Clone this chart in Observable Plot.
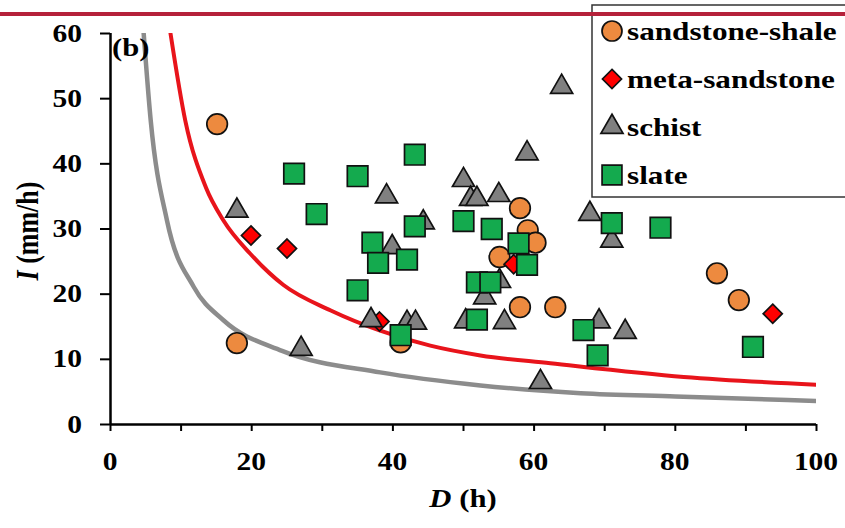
<!DOCTYPE html>
<html><head><meta charset="utf-8">
<script src="https://cdn.jsdelivr.net/npm/d3@7"></script>
<script src="https://cdn.jsdelivr.net/npm/@observablehq/plot@0.6"></script>
<style>
body{margin:0;background:#fff;}
#chart{position:relative;width:845px;height:528px;overflow:hidden;}
</style></head><body><div id="chart"></div>
<script>
// ---- data ----
const sandstoneD = [15.1, 17.9, 41.1, 58.0, 59.1, 60.2, 55.1, 58.0, 63.0, 85.9, 89.0];
const sandstoneI = [46.1, 12.5, 12.6, 33.2, 29.8, 27.9, 25.7, 18.0, 18.0, 23.2, 19.1];

const metaD = [19.9, 25.0, 38.1, 57.1, 93.8];
const metaI = [29.0, 27.0, 15.8, 24.6, 17.0];

const schistD = [17.9, 27.0, 39.1, 50.0, 51.0, 51.9, 55.0, 59.0, 63.9, 44.3, 39.9, 36.9, 42.0, 43.2, 50.3, 53.0, 55.1, 55.8, 60.9, 67.9, 71.0, 69.2, 72.9];
const schistI = [32.8, 11.6, 35.0, 37.5, 34.6, 34.6, 35.2, 41.6, 51.8, 31.0, 27.2, 16.0, 15.6, 15.6, 15.8, 19.5, 22.0, 15.7, 6.5, 32.3, 28.2, 15.8, 14.2];

const slateD = [26.0, 35.0, 43.1, 29.2, 50.0, 54.0, 37.1, 37.9, 42.0, 43.1, 35.0, 51.9, 53.8, 51.9, 41.1, 57.8, 59.0, 71.0, 77.9, 67.0, 69.0, 91.0];
const slateI = [38.5, 38.1, 41.4, 32.3, 31.2, 30.0, 27.9, 24.8, 25.3, 30.4, 20.6, 21.8, 21.8, 16.1, 13.7, 27.8, 24.5, 30.9, 30.2, 14.5, 10.6, 11.9];

// threshold curves
const redCurveD = [8.5, 10.6, 13.5, 16, 19.8, 24.5, 31.2, 38.2, 45.3, 52.4, 62.3, 81.2, 100];
const redCurveI = [60, 46.6, 36.4, 31.3, 26.2, 21.4, 17.5, 14.4, 12.1, 10.6, 9.4, 7.3, 6.1];
const grayCurveD = [4.7, 5.7, 8.0, 11.8, 16, 24.3, 38.2, 52.4, 66.6, 80, 100];
const grayCurveI = [60, 46.6, 31.3, 21.1, 16.0, 11.3, 8.0, 6.0, 4.8, 4.3, 3.6];

const xTicks = [0, 10, 20, 30, 40, 50, 60, 70, 80, 90, 100];
const xTickLabels = ["0", "20", "40", "60", "80", "100"];
const xLabelValues = [0, 20, 40, 60, 80, 100];
const yTicks = [0, 10, 20, 30, 40, 50, 60];
const yTickLabels = ["0", "10", "20", "30", "40", "50", "60"];

const seriesNames = ["sandstone-shale", "meta-sandstone", "schist", "slate"];

// ---- build tables ----
const zip = (D, I) => D.map((d, i) => ({D: d, I: I[i]}));
const sandstone = zip(sandstoneD, sandstoneI);
const meta = zip(metaD, metaI);
const schist = zip(schistD, schistI);
const slate = zip(slateD, slateI);
const redCurve = zip(redCurveD, redCurveI);
const grayCurve = zip(grayCurveD, grayCurveI);

const styles = {
  "sandstone-shale": {symbol: "circle", r: 10.3, fill: "#ED8A3F"},
  "meta-sandstone": {symbol: "diamond2", r: 8.6, fill: "#FF0000"},
  "schist": {symbol: "triangle", r: 8.2, fill: "#808080"},
  "slate": {symbol: "square", r: 11.6, fill: "#14AA4E"}
};
const dotOpts = (name) => ({x: "D", y: "I", symbol: styles[name].symbol, r: styles[name].r,
  fill: styles[name].fill, stroke: "#111", strokeWidth: 1.7});

const FONT = "'Liberation Serif', 'Times New Roman', serif";
const SX = 1.18;

const svg = Plot.plot({
  width: 845, height: 528,
  marginLeft: 110, marginRight: 29, marginTop: 33, marginBottom: 104,
  x: {domain: [0, 100], axis: null},
  y: {domain: [0, 60], axis: null},
  style: {fontFamily: FONT, background: "#fff"},
  marks: [
    Plot.line(grayCurve, {x: "D", y: "I", stroke: "#8C8C8C", strokeWidth: 4.5, curve: "monotone-x", clip: true}),
    Plot.line(redCurve, {x: "D", y: "I", stroke: "#E8141B", strokeWidth: 4, curve: "monotone-x", clip: true}),
    Plot.axisX({ticks: xTicks, tickFormat: () => "", tickSize: 7, stroke: "#000", strokeWidth: 2, label: null}),
    Plot.axisY({ticks: yTicks, tickFormat: () => "", tickSize: 10, stroke: "#000", strokeWidth: 2, label: null}),
    Plot.ruleX([0], {stroke: "#000", strokeWidth: 2.5}),
    Plot.ruleY([0], {stroke: "#000", strokeWidth: 2.5}),
    Plot.dot(sandstone, dotOpts("sandstone-shale")),
    Plot.dot(meta, dotOpts("meta-sandstone")),
    Plot.dot(schist, dotOpts("schist")),
    Plot.dot(slate, dotOpts("slate"))
  ]
});

const xs = svg.scale("x"), ys = svg.scale("y");
const s = d3.select(svg);
const txt = (x, y, str, size, anchor, sx = SX) => s.append("text")
  .attr("transform", `translate(${x},${y}) scale(${sx},1)`)
  .attr("text-anchor", anchor).attr("font-family", FONT).attr("font-weight", "bold")
  .attr("font-size", size).attr("fill", "#000").text(str);

// tick labels through Plot's scales
xLabelValues.forEach((v, i) => txt(xs.apply(v), 470, xTickLabels[i], 25, "middle"));
yTicks.forEach((v, i) => txt(82, ys.apply(v) + 8.5, yTickLabels[i], 25, "end"));

// panel tag
txt(112, 56, "(b)", 26, "start");

// axis titles
const xt = s.append("text").attr("transform", `translate(463,507) scale(${SX},1)`)
  .attr("text-anchor", "middle").attr("font-family", FONT).attr("font-weight", "bold").attr("font-size", 26).attr("fill", "#000");
xt.append("tspan").attr("font-style", "italic").text("D");
xt.append("tspan").text(" (h)");
const yt = s.append("text").attr("transform", `translate(38,231) rotate(-90) scale(1,${SX})`)
  .attr("text-anchor", "middle").attr("font-family", FONT).attr("font-weight", "bold").attr("font-size", 26).attr("fill", "#000");
yt.append("tspan").attr("font-style", "italic").text("I");
yt.append("tspan").text(" (mm/h)");

// legend
const lg = s.append("g");
lg.append("rect").attr("x", 592).attr("y", 5).attr("width", 270).attr("height", 192)
  .attr("fill", "#fff").attr("stroke", "#333").attr("stroke-width", 1.5);
const symMap = {circle: d3.symbolCircle, diamond2: d3.symbolDiamond2, triangle: d3.symbolTriangle, square: d3.symbolSquare};
seriesNames.forEach((name, i) => {
  const cy = 31 + i * 48;
  const st = styles[name];
  const r = name === "sandstone-shale" ? 10 : name === "slate" ? 11.2 : st.r;
  lg.append("path").attr("transform", `translate(612,${cy})`)
    .attr("d", d3.symbol(symMap[st.symbol], Math.PI * r * r)())
    .attr("fill", st.fill).attr("stroke", "#111").attr("stroke-width", 1.7);
  lg.append("text").attr("transform", `translate(627,${cy + 9}) scale(1.2,1)`)
    .attr("text-anchor", "start")
    .attr("font-family", FONT).attr("font-weight", "bold").attr("font-size", 26).attr("fill", "#000").text(name);
});

// page header rule
s.append("line").attr("x1", 0).attr("x2", 845).attr("y1", 14).attr("y2", 14)
  .attr("stroke", "#B5213A").attr("stroke-width", 4);

document.getElementById("chart").appendChild(svg);
</script>
</body></html>
